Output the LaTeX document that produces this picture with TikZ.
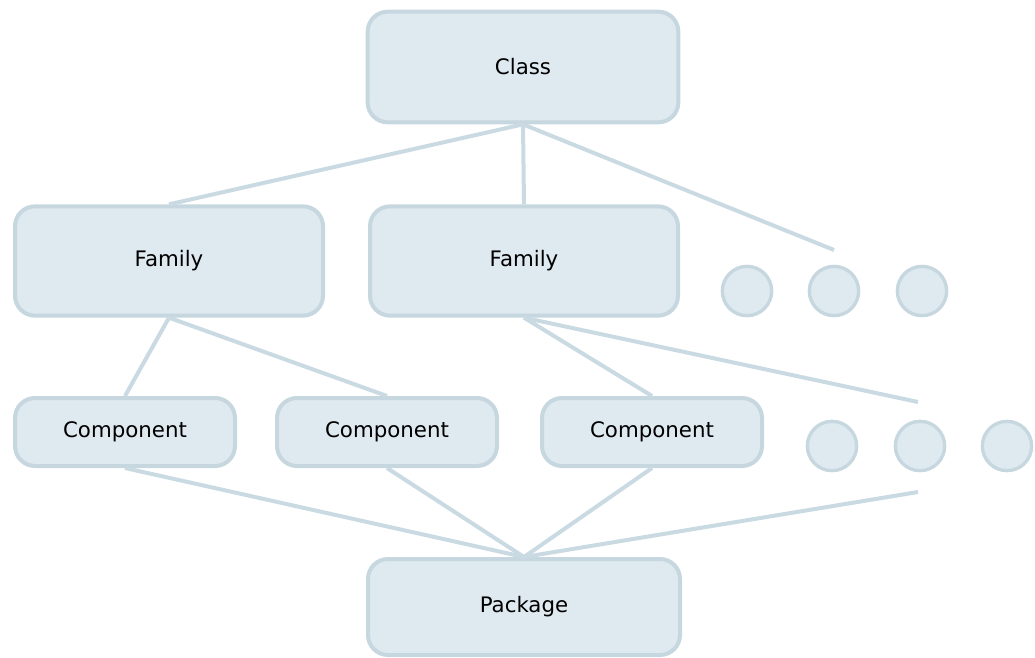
\documentclass[tikz,border=0pt]{standalone}
\usepackage{fontspec}
\setmainfont{DejaVu Sans}
\definecolor{boxfill}{HTML}{DFE9F0}
\definecolor{boxline}{HTML}{C6D7DF}
\definecolor{linkline}{HTML}{CADAE2}

\begin{document}
\begin{tikzpicture}[x=0.75pt, y=-0.75pt,
    box/.style={rectangle, rounded corners=15pt, draw=boxline, line width=3pt, fill=boxfill, font=\fontsize{16}{19}\selectfont},
    dot/.style={circle, draw=boxline, line width=2.5pt, fill=boxfill, minimum size=37pt, inner sep=0pt},
    link/.style={draw=linkline, line width=3pt}]
    \useasboundingbox (0,0) rectangle (1035,657);

    \node (class) [box, minimum width=233pt, minimum height=83pt] at (523,67) {Class};
    \node (fam1) [box, minimum width=231pt, minimum height=82pt] at (169,261) {Family};
    \node (fam2) [box, minimum width=231pt, minimum height=82pt] at (524,261) {Family};
    \node (comp1) [box, minimum width=165pt, minimum height=51pt] at (125,432) {Component};
    \node (comp2) [box, minimum width=165pt, minimum height=51pt] at (387,432) {Component};
    \node (comp3) [box, minimum width=165pt, minimum height=51pt] at (652,432) {Component};
    \node (pkg) [box, minimum width=234pt, minimum height=72pt] at (524,607) {Package};

    \node (dot1) [dot] at (747,291) {};
    \node (dot2) [dot] at (834,291) {};
    \node (dot3) [dot] at (922,291) {};
    \node (dot4) [dot] at (832,446) {};
    \node (dot5) [dot] at (920,446) {};
    \node (dot6) [dot] at (1007,446) {};

    \coordinate (more1) at (834,250);
    \coordinate (more2) at (918,402);
    \coordinate (more3) at (918,492);

    \draw [link] (class.south) -- (fam1.north);
    \draw [link] (class.south) -- (fam2.north);
    \draw [link] (class.south) -- (more1);
    \draw [link] (fam1.south) -- (comp1.north);
    \draw [link] (fam1.south) -- (comp2.north);
    \draw [link] (fam2.south) -- (comp3.north);
    \draw [link] (fam2.south) -- (more2);
    \draw [link] (comp1.south) -- (pkg.north);
    \draw [link] (comp2.south) -- (pkg.north);
    \draw [link] (comp3.south) -- (pkg.north);
    \draw [link] (more3) -- (pkg.north);
\end{tikzpicture}
\end{document}
